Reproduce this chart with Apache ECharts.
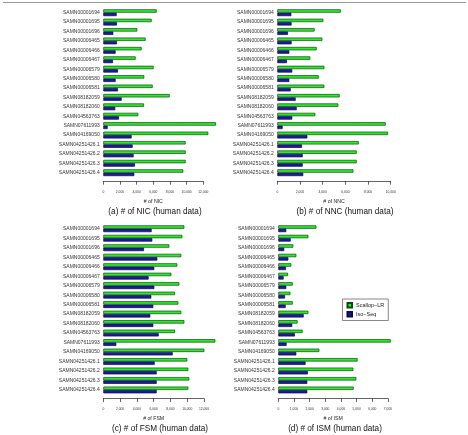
<!DOCTYPE html>
<html>
<head>
<meta charset="utf-8">
<script src="https://cdn.jsdelivr.net/npm/echarts@6/dist/echarts.min.js"></script>
<style>
  html, body { margin: 0; padding: 0; background: #fff; }
  #chart { width: 468px; height: 435px; }
</style>
</head>
<body>
<div id="chart"></div>
<script>
    var samples = ['SAMN00001694', 'SAMN00001695', 'SAMN00001696', 'SAMN00006465', 'SAMN00006466',
        'SAMN00006467', 'SAMN00006579', 'SAMN00006580', 'SAMN00006581', 'SAMN08182059',
        'SAMN08182060', 'SAMN04563763', 'SAMN07611993', 'SAMN04169050',
        'SAMN04251426.1', 'SAMN04251426.2', 'SAMN04251426.3', 'SAMN04251426.4'];

    // (a) NIC
    var nicScallop = [6400, 5800, 4080, 5080, 4600, 3880, 6040, 4920, 5920, 7960, 4880, 4200, 13520, 12600, 9880, 9880, 9880, 9600];
    var nicIso = [1600, 1640, 1200, 1640, 1480, 1160, 1760, 1480, 1760, 2200, 1440, 1880, 520, 3400, 3520, 3640, 3800, 3720];
    // (b) NNC
    var nncScallop = [5590, 4060, 3290, 3970, 3470, 2910, 4150, 3650, 4150, 5500, 5380, 3350, 9560, 9760, 7180, 7000, 7000, 6710];
    var nncIso = [1240, 1260, 940, 1260, 1060, 850, 1320, 1060, 1180, 1620, 1710, 1320, 470, 2650, 2180, 2240, 2240, 2290];
    // (c) FSM
    var fsmScallop = [9660, 9420, 7870, 9300, 8820, 8110, 9060, 8540, 8940, 9300, 9660, 8540, 13350, 12040, 10010, 10130, 10250, 10130];
    var fsmIso = [5760, 5840, 4850, 6440, 6080, 5400, 6080, 5720, 5960, 5600, 5960, 6600, 1550, 8270, 6120, 6360, 6360, 6360];
    // (d) ISM
    var ismScallop = [2430, 1920, 960, 1150, 830, 620, 920, 770, 920, 1920, 1230, 1550, 7170, 2620, 5060, 4790, 4980, 4810];
    var ismIso = [510, 790, 380, 640, 490, 340, 510, 430, 470, 1620, 890, 1060, 530, 1150, 1740, 1890, 1850, 1850];

    var xNames = ['# of NIC', '# of NNC', '# of FSM', '# of ISM'];
    var xMax = [12000, 10000, 12000, 7000];
    var xStep = [2000, 2000, 2000, 1000];
    var captions = ['(a) # of NIC (human data)', '(b) # of NNC (human data)',
        '(c) # of FSM (human data)', '(d) # of ISM (human data)'];
    var seriesNames = ['Scallop\u2212LR', 'Iso\u2212Seq'];

    var FONT = 'Liberation Sans, Arial, sans-serif';
    var grids = [
        {left: 103.3, width: 100, top: 8, height: 169.4},
        {left: 277.3, width: 113.4, top: 8, height: 169.4},
        {left: 103.3, width: 100.7, top: 224, height: 170.7},
        {left: 278.3, width: 109.7, top: 224, height: 170.7}
    ];
    var capPos = [[155, 211.5], [345, 211.5], [160, 429], [335, 429]];

    var greenStyle = {color: '#2bea2b', borderColor: '#0a4a0a', borderWidth: 0.7};
    var blueStyle = {color: '#1c1c9c', borderColor: '#0a0a50', borderWidth: 0.7};

    var xAxes = [], yAxes = [], series = [], graphics = [];
    var pairs = [[nicScallop, nicIso], [nncScallop, nncIso], [fsmScallop, fsmIso], [ismScallop, ismIso]];

    grids.forEach(function (g, i) {
        xAxes.push({
            type: 'value', gridIndex: i, min: 0, max: xMax[i], interval: xStep[i],
            offset: 3.8,
            splitLine: {show: false},
            axisLine: {show: true, lineStyle: {color: '#222', width: 0.7}},
            axisTick: {show: true, length: 3.5, lineStyle: {color: '#222', width: 0.7}},
            axisLabel: {fontSize: 3.3, color: '#333', margin: 9.5, fontFamily: FONT},
            name: xNames[i], nameLocation: 'middle', nameGap: 18,
            nameTextStyle: {fontSize: 5.2, color: '#222', fontFamily: FONT}
        });
        yAxes.push({
            type: 'category', gridIndex: i, data: samples, inverse: true,
            axisLine: {show: false}, axisTick: {show: false},
            axisLabel: {fontSize: 5, color: '#333', margin: 3.6, fontFamily: FONT}
        });
        series.push({
            name: seriesNames[0], type: 'bar', xAxisIndex: i, yAxisIndex: i,
            data: pairs[i][0], barWidth: 3.4, barGap: '0%', clip: false,
            itemStyle: greenStyle, silent: true
        });
        series.push({
            name: seriesNames[1], type: 'bar', xAxisIndex: i, yAxisIndex: i,
            data: pairs[i][1], barWidth: 3.4, barGap: '0%', clip: false,
            itemStyle: blueStyle, silent: true
        });
        graphics.push({
            type: 'text', x: capPos[i][0], y: capPos[i][1],
            style: {text: captions[i], fontSize: 8.2, fill: '#111', fontFamily: FONT,
                align: 'center', verticalAlign: 'middle'}
        });
    });

    // thin rule along the top of the figure
    graphics.push({
        type: 'line', shape: {x1: 3, y1: 2.5, x2: 466, y2: 2.5},
        style: {stroke: '#999', lineWidth: 1}
    });

    var chart = echarts.init(document.getElementById('chart'), null, {renderer: 'canvas'});
    chart.setOption({
        animation: false,
        backgroundColor: '#fff',
        grid: grids,
        xAxis: xAxes,
        yAxis: yAxes,
        series: series,
        legend: {
            data: seriesNames, orient: 'vertical',
            left: 342.5, top: 299,
            itemWidth: 4.5, itemHeight: 4.5, itemGap: 2.5,
            padding: [3, 4, 3, 4],
            borderColor: '#555', borderWidth: 0.7,
            textStyle: {fontSize: 5.5, color: '#222', fontFamily: FONT, padding: [0, 0, 0, -1]},
            icon: 'rect'
        },
        graphic: graphics
    });
</script>
</body>
</html>
